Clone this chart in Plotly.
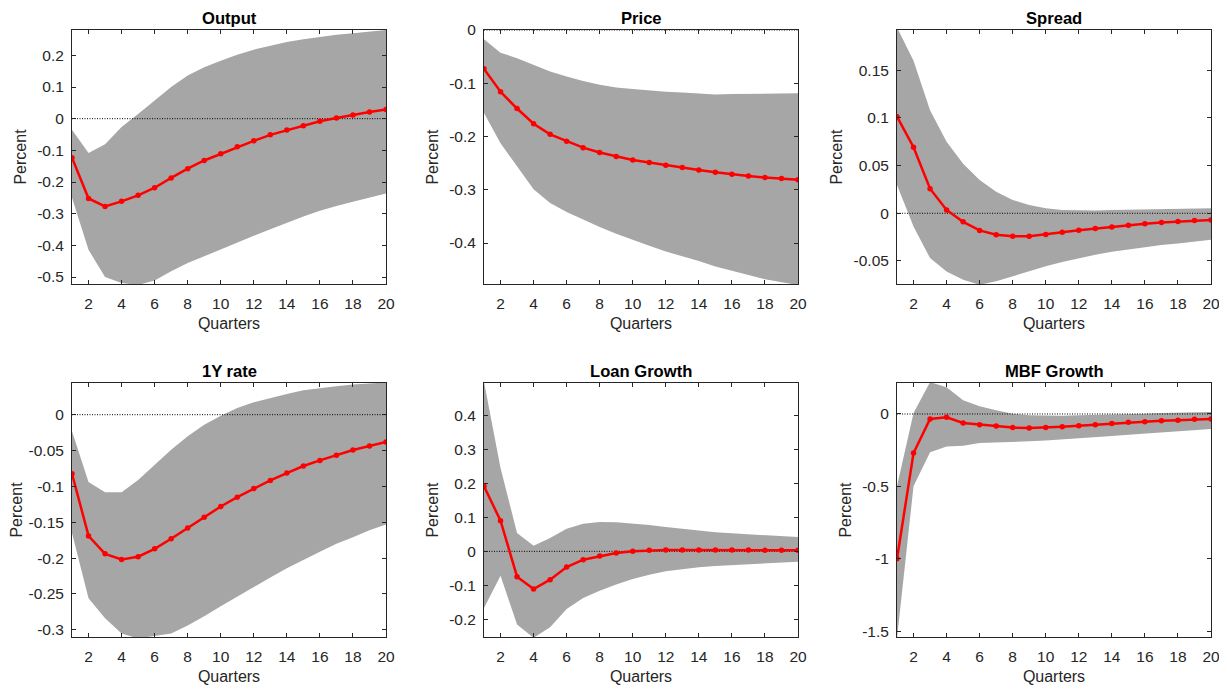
import plotly.graph_objects as go
from plotly.subplots import make_subplots

quarters = list(range(1, 21))
x_ticks = [2, 4, 6, 8, 10, 12, 14, 16, 18, 20]

# impulse responses (red line) and bands (gray area)
output_irf = [-0.123, -0.252, -0.277, -0.261, -0.242, -0.218, -0.187, -0.158, -0.132, -0.111,
              -0.089, -0.070, -0.051, -0.036, -0.022, -0.008, 0.002, 0.012, 0.021, 0.029]
output_hi = [-0.035, -0.108, -0.081, -0.026, 0.015, 0.058, 0.100, 0.136, 0.162, 0.183,
             0.202, 0.218, 0.230, 0.242, 0.251, 0.259, 0.265, 0.270, 0.275, 0.280]
output_lo = [-0.250, -0.414, -0.500, -0.519, -0.525, -0.511, -0.482, -0.456, -0.435, -0.412,
             -0.391, -0.370, -0.349, -0.328, -0.309, -0.291, -0.276, -0.262, -0.248, -0.236]

price_irf = [-0.073, -0.116, -0.1475, -0.176, -0.196, -0.209, -0.221, -0.230, -0.2375, -0.244,
             -0.249, -0.254, -0.258, -0.263, -0.267, -0.271, -0.274, -0.277, -0.279, -0.281]
price_hi = [-0.0175, -0.0425, -0.053, -0.066, -0.078, -0.0875, -0.096, -0.103, -0.108, -0.111,
            -0.114, -0.116, -0.1175, -0.119, -0.121, -0.120, -0.120, -0.119, -0.119, -0.119]
price_lo = [-0.156, -0.2125, -0.256, -0.299, -0.325, -0.342, -0.356, -0.370, -0.3825, -0.394,
            -0.405, -0.416, -0.425, -0.434, -0.444, -0.452, -0.460, -0.468, -0.474, -0.479]

spread_irf = [0.1014, 0.0693, 0.0258, 0.0035, -0.009, -0.018, -0.0226, -0.024, -0.024, -0.0223,
              -0.0199, -0.0178, -0.016, -0.0143, -0.0125, -0.0111, -0.0098, -0.0087, -0.0077, -0.007]
spread_hi = [0.195, 0.160, 0.108, 0.075, 0.052, 0.035, 0.0226, 0.014, 0.0087, 0.0052,
             0.0035, 0.0028, 0.0028, 0.0035, 0.0038, 0.0042, 0.0045, 0.0049, 0.0049, 0.0052]
spread_lo = [0.0296, -0.014, -0.047, -0.061, -0.0697, -0.075, -0.0714, -0.066, -0.061, -0.0557,
             -0.051, -0.047, -0.0436, -0.0404, -0.038, -0.0355, -0.0334, -0.0317, -0.030, -0.0279]

rate_irf = [-0.0823, -0.169, -0.194, -0.202, -0.198, -0.187, -0.173, -0.158, -0.143, -0.128,
            -0.115, -0.103, -0.0916, -0.0814, -0.0716, -0.0637, -0.0567, -0.0493, -0.0437, -0.0381]
rate_hi = [-0.023, -0.094, -0.108, -0.108, -0.091, -0.070, -0.049, -0.030, -0.014, -0.0014,
           0.0093, 0.0172, 0.0233, 0.0288, 0.034, 0.0372, 0.0395, 0.042, 0.043, 0.045]
rate_lo = [-0.165, -0.256, -0.284, -0.305, -0.312, -0.309, -0.305, -0.294, -0.281, -0.267,
           -0.253, -0.240, -0.227, -0.214, -0.202, -0.191, -0.180, -0.171, -0.161, -0.153]

loan_irf = [0.192, 0.0905, -0.0747, -0.111, -0.0836, -0.0462, -0.0246, -0.0138, -0.0049, 0.0,
            0.003, 0.004, 0.004, 0.004, 0.004, 0.004, 0.004, 0.003, 0.003, 0.003]
loan_hi = [0.50, 0.246, 0.054, 0.0167, 0.039, 0.067, 0.0816, 0.0865, 0.0855, 0.0826,
           0.0777, 0.0718, 0.0659, 0.061, 0.056, 0.053, 0.050, 0.047, 0.045, 0.042]
loan_lo = [-0.167, -0.0718, -0.216, -0.255, -0.224, -0.170, -0.138, -0.116, -0.098, -0.0816,
           -0.0688, -0.059, -0.052, -0.047, -0.043, -0.040, -0.037, -0.035, -0.033, -0.031]

mbf_irf = [-1.0, -0.27, -0.035, -0.023, -0.062, -0.074, -0.083, -0.094, -0.097, -0.094,
           -0.088, -0.081, -0.074, -0.065, -0.058, -0.053, -0.046, -0.044, -0.037, -0.035]
mbf_hi = [-0.5, 0.007, 0.22, 0.184, 0.094, 0.053, 0.025, 0.002, -0.009, -0.012,
          -0.012, -0.009, -0.007, -0.002, 0.0, 0.002, 0.007, 0.009, 0.012, 0.014]
mbf_lo = [-1.55, -0.5, -0.265, -0.224, -0.219, -0.200, -0.196, -0.194, -0.189, -0.184,
          -0.177, -0.171, -0.161, -0.152, -0.143, -0.131, -0.124, -0.118, -0.111, -0.104]

titles = ["Output", "Price", "Spread", "1Y rate", "Loan Growth", "MBF Growth"]
y_ranges = [[-0.522, 0.28], [-0.477, 0.0], [-0.0742, 0.1923],
            [-0.310, 0.0442], [-0.2527, 0.4966], [-1.541, 0.214]]
y_ticks = [
    [-0.5, -0.4, -0.3, -0.2, -0.1, 0, 0.1, 0.2],
    [-0.4, -0.3, -0.2, -0.1, 0],
    [-0.05, 0, 0.05, 0.1, 0.15],
    [-0.3, -0.25, -0.2, -0.15, -0.1, -0.05, 0],
    [-0.2, -0.1, 0, 0.1, 0.2, 0.3, 0.4],
    [-1.5, -1, -0.5, 0],
]

panels = [
    (output_irf, output_lo, output_hi),
    (price_irf, price_lo, price_hi),
    (spread_irf, spread_lo, spread_hi),
    (rate_irf, rate_lo, rate_hi),
    (loan_irf, loan_lo, loan_hi),
    (mbf_irf, mbf_lo, mbf_hi),
]

# the page body adds an 8px margin, so the figure is a bit smaller and shifted
OFF = 8
W, H = 1227 - OFF, 689 - OFF
x_dom = [[(a - OFF) / W, (b - OFF) / W] for a, b in [(72, 386), (484, 798), (897, 1211)]]
y_dom = [[1 - (b - OFF) / H, 1 - (a - OFF) / H] for a, b in [(30, 284), (383, 637)]]

AXIS_COLOR = "#262626"
BAND = "#a6a6a6"

fig = make_subplots(rows=2, cols=3)

for i, (irf, lo, hi) in enumerate(panels):
    r, c = i // 3 + 1, i % 3 + 1
    # gray band
    fig.add_trace(go.Scatter(x=quarters + quarters[::-1], y=hi + lo[::-1], fill="toself",
                             fillcolor=BAND, line=dict(width=0), mode="lines",
                             hoverinfo="skip", showlegend=False), row=r, col=c)
    # zero line
    fig.add_trace(go.Scatter(x=[quarters[0], quarters[-1]], y=[0, 0], mode="lines",
                             line=dict(color="black", width=1, dash="1px,1.5px"),
                             showlegend=False), row=r, col=c)
    fig.add_trace(go.Scatter(x=quarters, y=irf, mode="lines+markers",
                             line=dict(color="#ff0000", width=2.5),
                             marker=dict(color="#ff0000", size=5.5),
                             showlegend=False), row=r, col=c)

    fig.update_xaxes(domain=x_dom[c - 1], range=[1, 20], tickvals=x_ticks,
                     title=dict(text="Quarters", standoff=7), row=r, col=c)
    fig.update_yaxes(domain=y_dom[r - 1], range=y_ranges[i], tickvals=y_ticks[i],
                     ticktext=[("%g" % v) for v in y_ticks[i]],
                     title=dict(text="Percent", standoff=6), row=r, col=c)

    fig.add_annotation(text="<b>%s</b>" % titles[i], xref="paper", yref="paper",
                       x=sum(x_dom[c - 1]) / 2, y=y_dom[r - 1][1], yanchor="bottom",
                       xanchor="center", showarrow=False, yshift=0,
                       font=dict(size=16.6, color="black"))

fig.update_xaxes(showline=True, mirror="ticks", linecolor=AXIS_COLOR, linewidth=1,
                 ticks="inside", ticklen=4, tickcolor=AXIS_COLOR, showgrid=False,
                 zeroline=False, automargin=False, ticklabelstandoff=5,
                 tickfont=dict(size=15.5, color=AXIS_COLOR),
                 title_font=dict(size=16, color=AXIS_COLOR))
fig.update_yaxes(showline=True, mirror="ticks", linecolor=AXIS_COLOR, linewidth=1,
                 ticks="inside", ticklen=4, tickcolor=AXIS_COLOR, showgrid=False,
                 zeroline=False, automargin=False, ticklabelstandoff=4,
                 tickfont=dict(size=15.5, color=AXIS_COLOR),
                 title_font=dict(size=16, color=AXIS_COLOR))

fig.update_layout(width=W, height=H, margin=dict(l=0, r=0, t=0, b=0),
                  plot_bgcolor="white", paper_bgcolor="white",
                  font=dict(family="Liberation Sans, Arial, sans-serif"))

fig.write_html("out.html")
